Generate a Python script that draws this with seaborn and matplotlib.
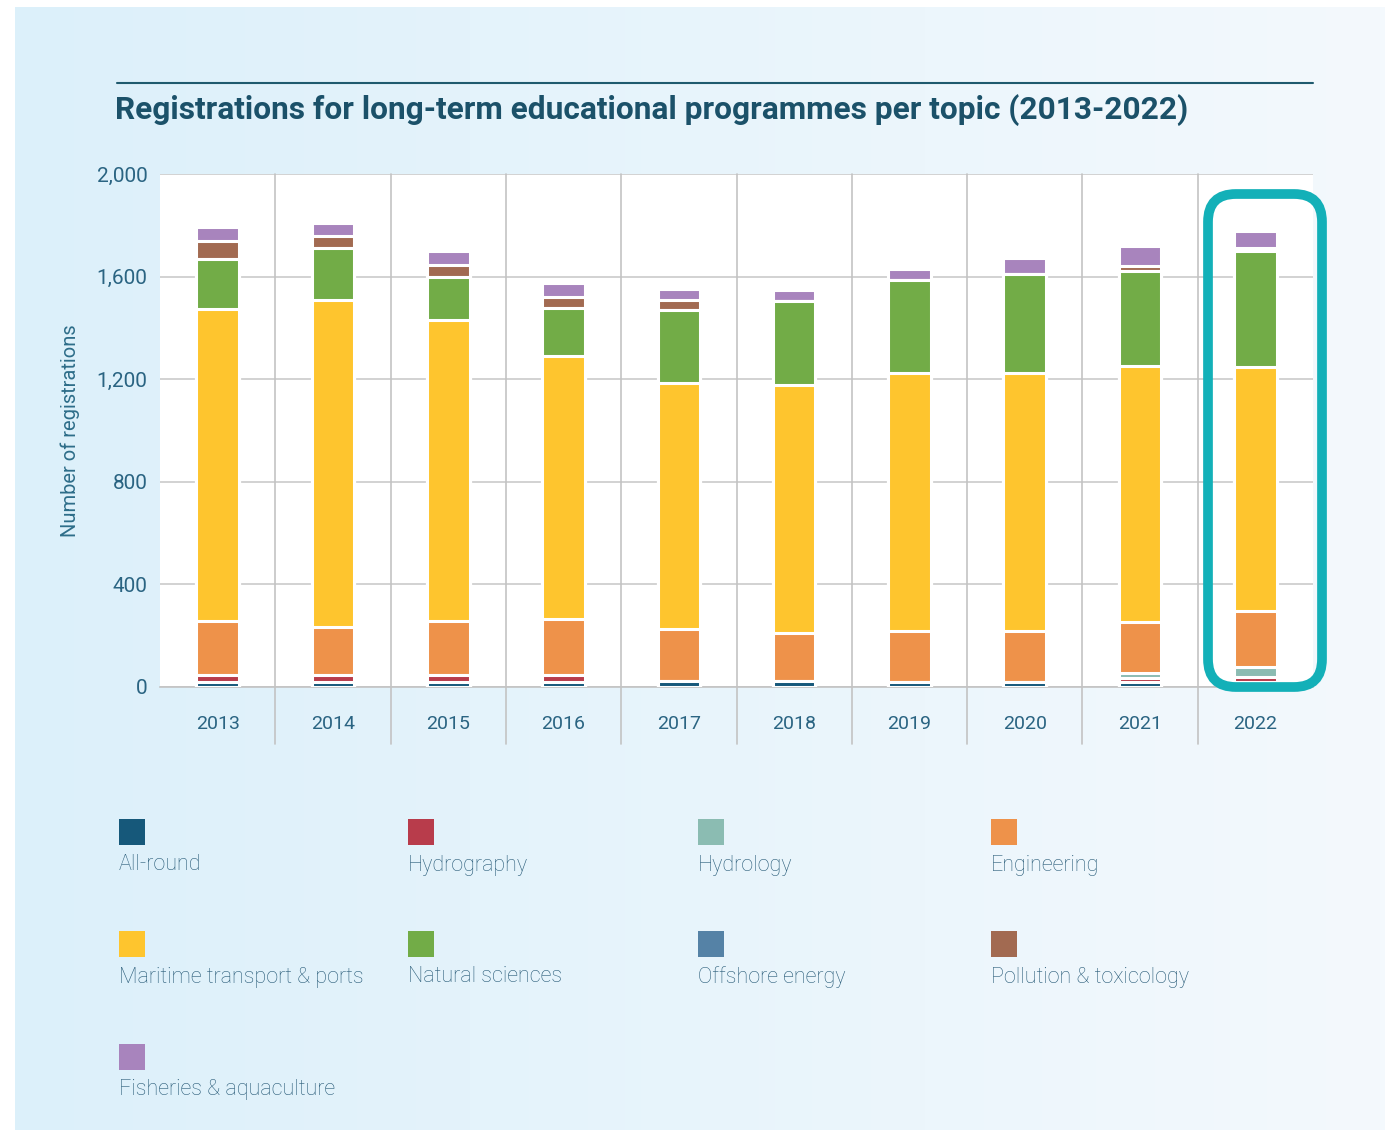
import numpy as np
import pandas as pd
import matplotlib
matplotlib.use("Agg")
import matplotlib.pyplot as plt
import matplotlib.transforms as mtransforms
from matplotlib.patches import Rectangle, FancyBboxPatch
import seaborn as sns

# Data
years = ["2013", "2014", "2015", "2016", "2017", "2018", "2019", "2020", "2021", "2022"]
topics = ["All-round", "Hydrography", "Hydrology", "Engineering",
          "Maritime transport & ports", "Natural sciences", "Offshore energy",
          "Pollution & toxicology", "Fisheries & aquaculture"]
all_round = [20, 20, 20, 20, 23, 23, 19, 20, 18, 20]
hydrography = [27, 25, 27, 27, 0, 0, 0, 0, 17, 20]
hydrology = [0, 0, 0, 0, 0, 0, 0, 0, 20, 37]
engineering = [210, 189, 210, 217, 202, 189, 201, 197, 200, 218]
maritime = [1218, 1275, 1174, 1025, 962, 964, 1006, 1009, 995, 953]
natural_sciences = [194, 201, 169, 187, 283, 330, 359, 383, 370, 452]
offshore_energy = [0, 0, 0, 0, 0, 0, 0, 0, 0, 0]
pollution = [70, 47, 45, 46, 40, 0, 0, 0, 20, 10]
fisheries = [53, 51, 56, 52, 42, 42, 44, 64, 81, 66]

colors = ["#16587a", "#b83c4b", "#8bbcb2", "#ee924a", "#fec52e",
          "#72ac47", "#5582a6", "#a26a51", "#a884bd"]

series = [all_round, hydrography, hydrology, engineering, maritime,
          natural_sciences, offshore_energy, pollution, fisheries]
df = pd.DataFrame(dict(zip(topics, series)), index=years)
cum = df.cumsum(axis=1)

sns.set_theme(style="white")
plt.rcParams["font.family"] = ["Roboto", "DejaVu Sans"]

W, H = 1393, 1130
fig = plt.figure(figsize=(W / 100, H / 100), dpi=100)
fig.patch.set_facecolor("white")

# gradient background panel
bg = fig.add_axes([15 / W, 0, (1385 - 15) / W, (H - 7) / H], zorder=-10)
grad = np.linspace(0, 1, 256).reshape(1, -1)
cmap = matplotlib.colors.LinearSegmentedColormap.from_list("bg", ["#dcf0fa", "#f4f9fd"])
bg.imshow(grad, aspect="auto", cmap=cmap, extent=[0, 1, 0, 1])
bg.set_axis_off()

ax = fig.add_axes([160 / W, (H - 687) / H, 1153 / W, 513 / H])
ax.set_facecolor("white")

# stacked bars: draw cumulative totals from top segment down
for topic, col in zip(topics[::-1], colors[::-1]):
    sns.barplot(x=years, y=cum[topic].values, order=years, color=col,
                saturation=1, width=0.37, edgecolor="white", linewidth=2.2,
                errorbar=None, ax=ax, zorder=3)

ax.set_ylim(0, 2000)
ax.set_xlim(-0.5, len(years) - 0.5)
ax.set_yticks([0, 400, 800, 1200, 1600, 2000])
ax.set_yticklabels(["0", "400", "800", "1,200", "1,600", "2,000"])
ax.yaxis.grid(True, color="#cbcbcb", linewidth=1.2, zorder=0)
ax.set_axisbelow(True)
for s in ["top", "right", "left"]:
    ax.spines[s].set_visible(False)
ax.spines["bottom"].set_color("#c3c3c3")
ax.spines["bottom"].set_linewidth(1.2)
ax.tick_params(axis="y", length=0, pad=9, labelsize=15, labelcolor="#2a6482")
ax.tick_params(axis="x", length=0, pad=20, labelsize=14, labelcolor="#2a6482")
ax.set_xlabel("")
ax.set_ylabel("Number of registrations", fontsize=14.5, color="#2d6d89", labelpad=12)

# category separators extending below the axis
trans = mtransforms.blended_transform_factory(ax.transData, ax.transAxes)
for i in range(1, len(years)):
    ax.plot([i - 0.5, i - 0.5], [-0.111, 1], transform=trans, color="#c3c3c3",
            linewidth=1.2, clip_on=False, zorder=1)

# highlight box around 2022
box = FancyBboxPatch((1208 / W, (H - 687) / H), 114 / W, 493 / H,
                     boxstyle="round,pad=0,rounding_size=0.02",
                     transform=fig.transFigure, fill=False,
                     edgecolor="#13b0b8", linewidth=7, zorder=20,
                     mutation_aspect=W / H)
fig.add_artist(box)

# title and rule
fig.add_artist(plt.Line2D([117 / W, 1313 / W], [(H - 83) / H] * 2,
                          color="#1f5a6e", linewidth=1.5))
fig.text(115 / W, (H - 110) / H, "Registrations for long-term educational programmes per topic (2013-2022)",
         fontsize=22.8, fontweight="bold", color="#1b5169", va="center", ha="left")

# legend: square above label, 4 columns
col_x = [119, 408, 698, 991]
row_y = [832, 944, 1057]
for k, (topic, col) in enumerate(zip(topics, colors)):
    r, c = divmod(k, 4)
    x0, yc = col_x[c], row_y[r]
    fig.add_artist(Rectangle((x0 / W, (H - yc - 13) / H), 26 / W, 26 / H,
                             transform=fig.transFigure, facecolor=col, edgecolor="none"))
    fig.text(x0 / W, (H - yc - 33) / H, topic, fontsize=15.5, color="#285b78",
             fontweight="light", va="center", ha="left")

fig.savefig("out.png", dpi=100)
